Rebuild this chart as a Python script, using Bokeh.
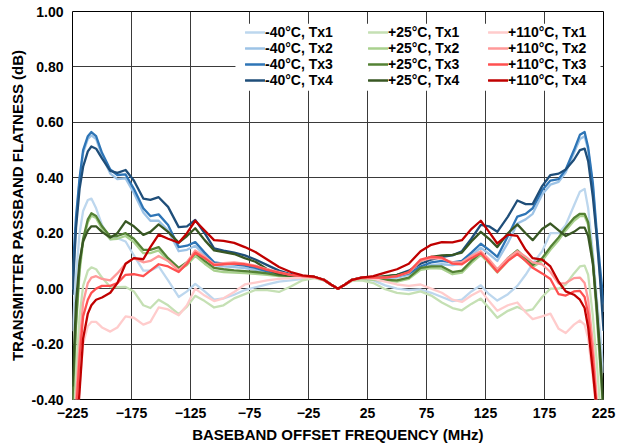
from bokeh.plotting import figure
from bokeh.models import (FixedTicker, NumeralTickFormatter, Legend, LegendItem,
                          BoxAnnotation, Range1d)
from bokeh.embed import file_html
from bokeh.resources import INLINE

# Baseband offset frequency (MHz)
FREQ = [-225, -222, -219, -216, -212, -209, -205, -200, -193, -187, -180, -173, -165,
        -159, -152, -144, -135, -128, -121, -113, -105, -97, -88, -79, -70, -60, -50,
        -40, -30, -20, -12, -6, 0,
        6, 12, 20, 30, 40, 50, 60, 70, 79, 88, 97, 105, 113, 121, 128, 135, 144, 152,
        159, 165, 173, 180, 187, 193, 200, 205, 209, 212, 216, 219, 222, 225]

# Passband flatness (dB), one list per temperature / transmitter
m40_tx1 = [-0.15, 0.05, 0.2, 0.28, 0.32, 0.325, 0.29, 0.23, 0.178, 0.182, 0.17, 0.12, 0.065,
           0.065, 0.08, 0.03, -0.03, -0.01, 0.017, -0.01, -0.04, -0.035, -0.022, -0.005, 0.005,
           0.015, 0.025, 0.03, 0.035, 0.04, 0.03, 0.015, 0.0,
           0.015, 0.03, 0.035, 0.03, 0.012, 0.0, -0.005, -0.003, -0.015, -0.03, -0.045, -0.04,
           -0.01, 0.012, -0.02, -0.043, -0.02, 0.01, 0.05, 0.09, 0.135, 0.2, 0.2, 0.23, 0.3,
           0.35, 0.36, 0.29, 0.13, -0.02, -0.15, -0.3]
m40_tx2 = [0.0, 0.24, 0.39, 0.49, 0.54, 0.553, 0.54, 0.48, 0.415, 0.395, 0.398, 0.345, 0.275,
           0.245, 0.245, 0.21, 0.135, 0.14, 0.155, 0.12, 0.085, 0.08, 0.078, 0.074, 0.068,
           0.058, 0.05, 0.046, 0.044, 0.042, 0.032, 0.015, 0.0,
           0.015, 0.032, 0.04, 0.038, 0.038, 0.04, 0.05, 0.07, 0.085, 0.088, 0.085, 0.09,
           0.12, 0.148, 0.125, 0.1, 0.165, 0.235, 0.25, 0.27, 0.34, 0.375, 0.385, 0.42, 0.49,
           0.54, 0.55, 0.5, 0.37, 0.2, 0.05, -0.08]
m40_tx3 = [0.05, 0.26, 0.40, 0.50, 0.55, 0.565, 0.55, 0.49, 0.43, 0.41, 0.412, 0.36, 0.29,
           0.262, 0.268, 0.23, 0.15, 0.155, 0.168, 0.13, 0.095, 0.09, 0.088, 0.083, 0.075,
           0.062, 0.052, 0.047, 0.044, 0.042, 0.032, 0.015, 0.0,
           0.015, 0.032, 0.04, 0.04, 0.04, 0.045, 0.055, 0.08, 0.095, 0.1, 0.095, 0.1,
           0.13, 0.162, 0.14, 0.115, 0.19, 0.26, 0.27, 0.29, 0.355, 0.39, 0.395, 0.43, 0.5,
           0.555, 0.565, 0.51, 0.38, 0.22, 0.08, -0.05]
m40_tx4 = [-0.02, 0.22, 0.36, 0.44, 0.495, 0.513, 0.505, 0.47, 0.425, 0.418, 0.428, 0.39, 0.325,
           0.32, 0.33, 0.295, 0.222, 0.225, 0.248, 0.2, 0.145, 0.137, 0.13, 0.12, 0.105,
           0.085, 0.065, 0.052, 0.045, 0.042, 0.032, 0.015, 0.0,
           0.015, 0.032, 0.04, 0.04, 0.043, 0.05, 0.065, 0.09, 0.105, 0.115, 0.12, 0.135,
           0.18, 0.23, 0.225, 0.205, 0.26, 0.318, 0.305, 0.305, 0.37, 0.41, 0.415, 0.43, 0.465,
           0.5, 0.505, 0.46, 0.33, 0.2, 0.04, -0.15]

p25_tx1 = [-0.5, -0.3, -0.1, 0.01, 0.065, 0.077, 0.07, 0.04, 0.006, 0.005, 0.006, -0.01, -0.06,
           -0.07, -0.04, -0.06, -0.092, -0.065, -0.026, -0.045, -0.068, -0.06, -0.035, -0.02,
           -0.005, -0.005, -0.012, 0.008, 0.03, 0.038, 0.03, 0.015, 0.0,
           0.015, 0.028, 0.03, 0.02, -0.002, -0.015, -0.02, -0.01, -0.025, -0.05, -0.07, -0.078,
           -0.055, -0.036, -0.07, -0.105, -0.08, -0.066, -0.08, -0.075, -0.03, 0.0, 0.0, 0.015,
           0.055, 0.08, 0.083, 0.05, -0.1, -0.25, -0.42, -0.6]
p25_tx2 = [-0.42, -0.14, 0.06, 0.17, 0.24, 0.263, 0.255, 0.215, 0.178, 0.18, 0.19, 0.168, 0.128,
           0.128, 0.138, 0.1, 0.066, 0.085, 0.118, 0.09, 0.065, 0.06, 0.058, 0.056, 0.053,
           0.05, 0.045, 0.043, 0.042, 0.041, 0.032, 0.015, 0.0,
           0.015, 0.03, 0.036, 0.032, 0.028, 0.025, 0.035, 0.068, 0.074, 0.072, 0.052, 0.058,
           0.092, 0.122, 0.092, 0.058, 0.1, 0.13, 0.1, 0.078, 0.1, 0.14, 0.175, 0.21, 0.245,
           0.262, 0.262, 0.23, 0.09, -0.08, -0.27, -0.47]
p25_tx3 = [-0.4, -0.12, 0.08, 0.18, 0.25, 0.272, 0.262, 0.225, 0.188, 0.19, 0.2, 0.18, 0.14,
           0.14, 0.15, 0.11, 0.075, 0.095, 0.128, 0.1, 0.075, 0.07, 0.066, 0.063, 0.06,
           0.055, 0.048, 0.045, 0.043, 0.042, 0.032, 0.015, 0.0,
           0.015, 0.032, 0.038, 0.035, 0.032, 0.03, 0.04, 0.075, 0.08, 0.08, 0.06, 0.065,
           0.1, 0.13, 0.1, 0.065, 0.11, 0.138, 0.11, 0.085, 0.11, 0.15, 0.185, 0.22, 0.255,
           0.27, 0.27, 0.24, 0.1, -0.06, -0.25, -0.45]
p25_tx4 = [-0.35, -0.05, 0.1, 0.17, 0.21, 0.225, 0.225, 0.205, 0.184, 0.2, 0.243, 0.225, 0.194,
           0.205, 0.232, 0.205, 0.166, 0.19, 0.218, 0.175, 0.138, 0.132, 0.125, 0.11, 0.097,
           0.07, 0.052, 0.047, 0.044, 0.042, 0.032, 0.015, 0.0,
           0.015, 0.032, 0.04, 0.04, 0.045, 0.05, 0.06, 0.1, 0.115, 0.12, 0.122, 0.13,
           0.17, 0.205, 0.18, 0.15, 0.2, 0.232, 0.2, 0.175, 0.215, 0.235, 0.21, 0.19, 0.205,
           0.22, 0.22, 0.19, 0.09, -0.05, -0.22, -0.42]

p110_tx1 = [-0.8, -0.55, -0.35, -0.2, -0.135, -0.12, -0.12, -0.14, -0.155, -0.14, -0.1, -0.105,
            -0.13, -0.12, -0.068, -0.075, -0.096, -0.06, 0.0, -0.025, -0.045, -0.035, -0.012,
            0.015, 0.022, 0.03, 0.035, 0.038, 0.04, 0.04, 0.032, 0.015, 0.0,
            0.015, 0.03, 0.038, 0.035, 0.025, 0.015, 0.01, 0.015, 0.0, -0.015, -0.04, -0.048,
            -0.025, -0.007, -0.045, -0.08, -0.06, -0.05, -0.085, -0.11, -0.1, -0.09, -0.145,
            -0.16, -0.13, -0.115, -0.13, -0.18, -0.32, -0.45, -0.65, -0.85]
p110_tx2 = [-0.65, -0.4, -0.2, -0.05, 0.02, 0.04, 0.045, 0.035, 0.03, 0.055, 0.09, 0.11, 0.095,
            0.1, 0.118, 0.1, 0.066, 0.095, 0.138, 0.115, 0.088, 0.092, 0.095, 0.09, 0.083,
            0.07, 0.06, 0.05, 0.045, 0.042, 0.032, 0.015, 0.0,
            0.015, 0.032, 0.04, 0.04, 0.04, 0.045, 0.058, 0.1, 0.11, 0.108, 0.095, 0.095,
            0.118, 0.135, 0.105, 0.07, 0.11, 0.135, 0.115, 0.095, 0.088, 0.06, 0.018, 0.02,
            0.038, 0.04, 0.02, -0.04, -0.2, -0.38, -0.58, -0.78]
p110_tx3 = [-0.7, -0.45, -0.25, -0.1, -0.04, -0.015, 0.0, 0.01, 0.01, 0.02, 0.05, 0.052, 0.045,
            0.065, 0.088, 0.08, 0.06, 0.09, 0.13, 0.11, 0.085, 0.088, 0.09, 0.088, 0.08,
            0.068, 0.058, 0.05, 0.045, 0.042, 0.032, 0.015, 0.0,
            0.015, 0.032, 0.04, 0.04, 0.04, 0.045, 0.06, 0.105, 0.115, 0.112, 0.09, 0.088,
            0.11, 0.128, 0.095, 0.06, 0.1, 0.125, 0.1, 0.075, 0.055, 0.035, -0.02, -0.025,
            -0.01, -0.008, -0.03, -0.09, -0.25, -0.42, -0.6, -0.8]
p110_tx4 = [-0.75, -0.55, -0.37, -0.18, -0.09, -0.06, -0.04, -0.032, -0.015, 0.02, 0.09, 0.11,
            0.106, 0.15, 0.195, 0.18, 0.166, 0.2, 0.245, 0.21, 0.175, 0.172, 0.165, 0.15, 0.132,
            0.105, 0.078, 0.06, 0.048, 0.043, 0.032, 0.015, 0.0,
            0.015, 0.032, 0.04, 0.045, 0.058, 0.07, 0.09, 0.135, 0.158, 0.168, 0.167, 0.175,
            0.215, 0.245, 0.205, 0.163, 0.195, 0.19, 0.14, 0.11, 0.105, 0.08, 0.025, -0.01,
            -0.022, -0.04, -0.07, -0.14, -0.3, -0.43, -0.65, -0.85]

X_TICKS = [-225, -175, -125, -75, -25, 25, 75, 125, 175, 225]
Y_TICKS = [-0.4, -0.2, 0.0, 0.2, 0.4, 0.6, 0.8, 1.0]

GROUPS = [
    [("-40°C, Tx1", m40_tx1, "#bdd7ee"), ("-40°C, Tx2", m40_tx2, "#9dc3e6"),
     ("-40°C, Tx3", m40_tx3, "#2e75b6"), ("-40°C, Tx4", m40_tx4, "#1f4e79")],
    [("+25°C, Tx1", p25_tx1, "#c5e0b4"), ("+25°C, Tx2", p25_tx2, "#a9d18e"),
     ("+25°C, Tx3", p25_tx3, "#548235"), ("+25°C, Tx4", p25_tx4, "#385723")],
    [("+110°C, Tx1", p110_tx1, "#ffcccc"), ("+110°C, Tx2", p110_tx2, "#ff9999"),
     ("+110°C, Tx3", p110_tx3, "#ff5050"), ("+110°C, Tx4", p110_tx4, "#c00000")],
]

FONT = "Liberation Sans"

p = figure(width=626, height=446, output_backend="svg", toolbar_location=None,
           x_range=Range1d(-225, 225), y_range=Range1d(-0.4, 1.0),
           min_border_left=72, min_border_right=23, min_border_top=11, min_border_bottom=47)

p.background_fill_color = "white"
p.border_fill_color = "white"
p.outline_line_color = "#000000"
p.outline_line_width = 1

p.xaxis.ticker = FixedTicker(ticks=X_TICKS)
p.yaxis.ticker = FixedTicker(ticks=Y_TICKS)
p.yaxis.formatter = NumeralTickFormatter(format="0.00")
p.xgrid.ticker = FixedTicker(ticks=X_TICKS)
p.ygrid.ticker = FixedTicker(ticks=Y_TICKS)
for g in (p.xgrid, p.ygrid):
    g.grid_line_color = "#3a3a3a"
    g.grid_line_width = 1

for ax in (p.xaxis, p.yaxis):
    ax.axis_line_color = None
    ax.major_tick_in = 0
    ax.major_tick_out = 0
    ax.minor_tick_line_color = None
    ax.major_label_text_font = FONT
    ax.major_label_text_font_style = "bold"
    ax.major_label_text_font_size = "14px"
    ax.major_label_text_color = "#000000"
    ax.axis_label_text_font = FONT
    ax.axis_label_text_font_style = "bold"
    ax.axis_label_text_font_size = "15px"
    ax.axis_label_text_color = "#000000"

p.xaxis.axis_label = "BASEBAND OFFSET FREQUENCY (MHz)"
p.yaxis.axis_label = "TRANSMITTER PASSBAND FLATNESS (dB)"
p.xaxis.major_label_standoff = 8
p.xaxis.axis_label_standoff = 5
p.yaxis.major_label_standoff = 9
p.yaxis.axis_label_standoff = 3

renderers = []
for group in GROUPS:
    col = []
    for label, vals, color in group:
        r = p.line(FREQ, vals, line_color=color, line_width=2.3,
                   line_join="round", line_cap="round")
        col.append((label, r))
    renderers.append(col)

# white panel behind the legend, hiding the grid there
p.add_layout(BoxAnnotation(left=-86.9, right=222.5, bottom=0.714, top=0.956,
                           fill_color="white", fill_alpha=1.0, line_color=None))

for col, x0 in zip(renderers, (173, 296, 416)):
    leg = Legend(items=[LegendItem(label=lab, renderers=[r]) for lab, r in col],
                 location=(x0, 311), orientation="vertical",
                 label_text_font=FONT, label_text_font_style="bold",
                 label_text_font_size="14px", label_text_color="#000000",
                 glyph_width=20, glyph_height=16, label_height=16, label_standoff=0,
                 spacing=0, padding=0, margin=0,
                 background_fill_alpha=0, border_line_color=None)
    p.add_layout(leg)

open("out.html", "w").write(file_html(p, INLINE))
